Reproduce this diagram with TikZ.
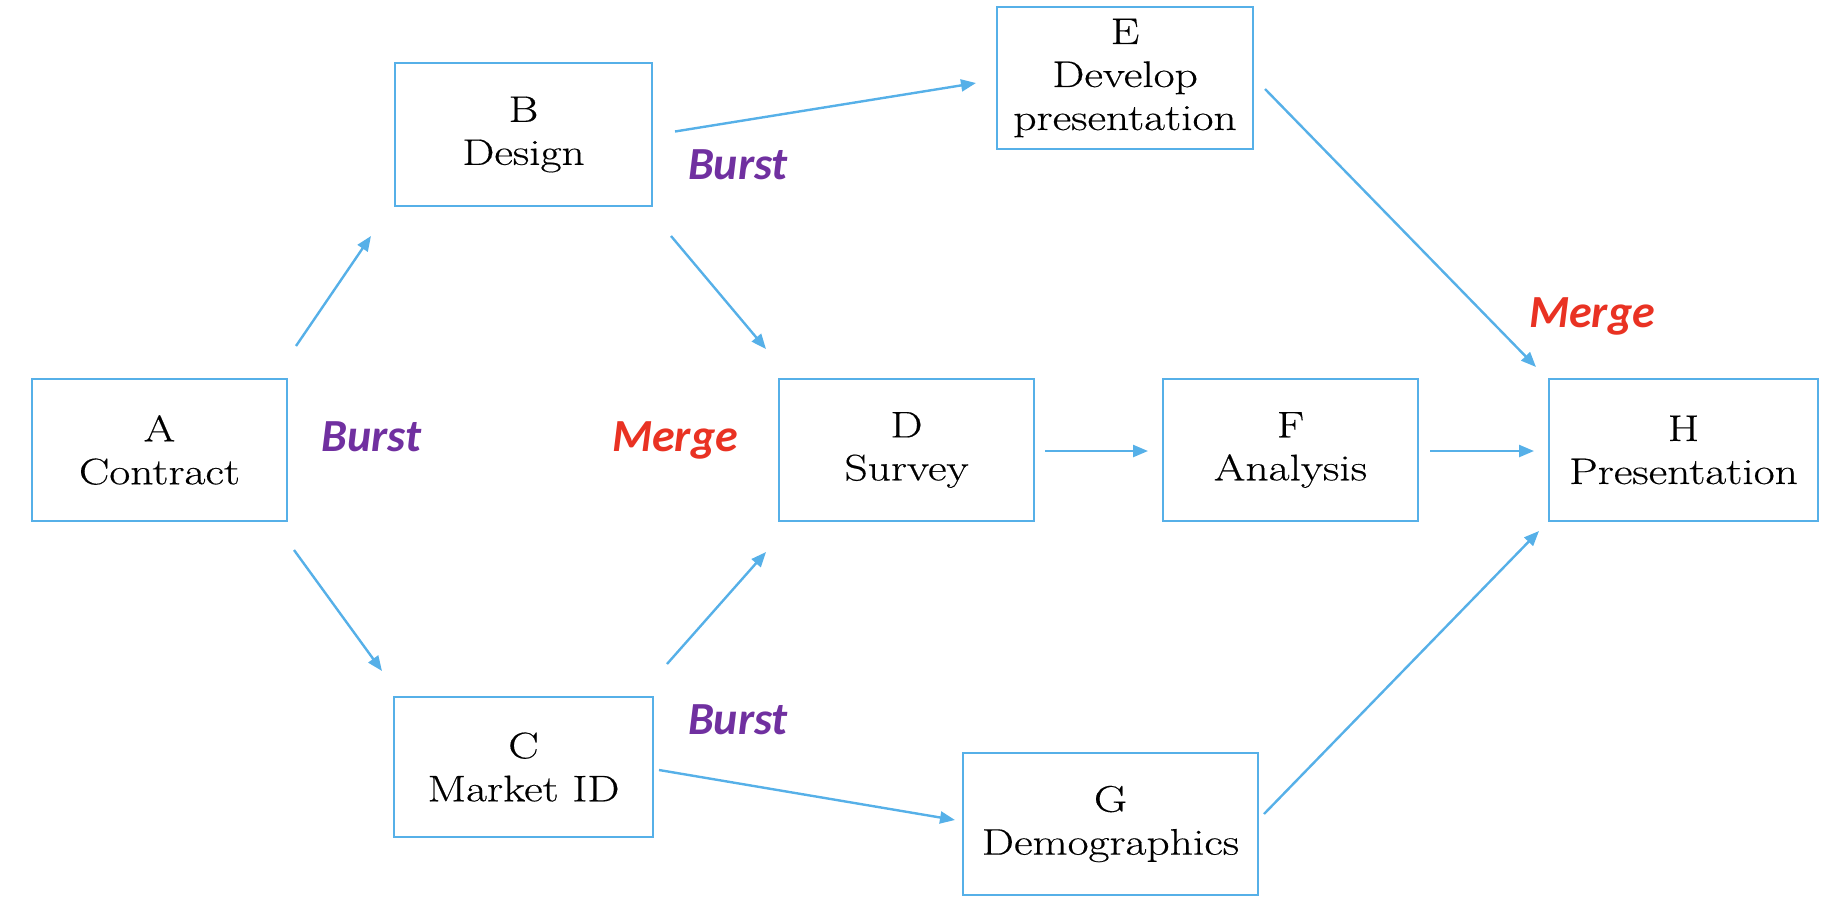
\documentclass[tikz,border=0pt]{standalone}
\usepackage{fontspec}
\newfontfamily\boxfont[FakeStretch=1.23,FakeBold=0.4]{Latin Modern Roman}
\newfontfamily\lblfont{Carlito}
\usetikzlibrary{arrows.meta,calc}
\definecolor{boxblue}{RGB}{86,176,232}
\definecolor{burstpurple}{RGB}{112,48,160}
\definecolor{mergered}{RGB}{233,50,35}
\tikzset{
  taskbox/.style={draw=boxblue, line width=2pt, inner sep=0pt, align=center,
    font=\boxfont\fontsize{37}{43}\selectfont, text=black},
  arr/.style={draw=boxblue, line width=2.4pt, -{Triangle[length=15pt,width=12pt]}},
  burst/.style={anchor=base, font=\lblfont\bfseries\itshape\fontsize{46}{50}\selectfont, text=burstpurple},
  merge/.style={anchor=base, font=\lblfont\bfseries\itshape\fontsize{46}{50}\selectfont, text=mergered}
}
\begin{document}
\begin{tikzpicture}[x=1pt,y=-1pt]
\useasboundingbox (0,0) rectangle (1828,902);
% boxes
\node[taskbox, minimum width=255pt, minimum height=142pt] (A) at (159.5,450) {A\\Contract};
\node[taskbox, minimum width=257pt, minimum height=143pt] (B) at (523.5,134.5) {B\\Design};
\node[taskbox, minimum width=259pt, minimum height=140pt] (C) at (523.5,767) {C\\Market ID};
\node[taskbox, minimum width=255pt, minimum height=142pt] (D) at (906.5,450) {D\\Survey};
\node[taskbox, minimum width=256pt, minimum height=142pt] (E) at (1125,78) {E\\Develop\\presentation};
\node[taskbox, minimum width=255pt, minimum height=142pt] (F) at (1290.5,450) {F\\Analysis};
\node[taskbox, minimum width=295pt, minimum height=142pt] (G) at (1110.5,824) {G\\Demographics};
\node[taskbox, minimum width=269pt, minimum height=142pt] (H) at (1683.5,450) {H\\Presentation};
% labels
\node[burst] (b1) at (371.5,451) {Burst};
\node[burst] (b2) at (738,179) {Burst};
\node[burst] (b3) at (738,734) {Burst};
\node[merge] (m1) at (675,451) {Merge};
\node[merge] (m2) at (1592,327) {Merge};
% arrows
\draw[arr] ($(A.north east)+(8,-32)$) -- ($(B.south west)+(-23,29)$);
\draw[arr] ($(A.south east)+(6,28)$) -- ($(C.north west)+(-11,-25)$);
\draw[arr] ($(B.east)+(22,-3)$) -- ($(E.west)+(-20,5)$);
\draw[arr] ($(B.south east)+(18,29)$) -- ($(D.north west)+(-12,-29)$);
\draw[arr] ($(C.north east)+(13,-32)$) -- ($(D.south west)+(-12,30)$);
\draw[arr] ($(C.east)+(5,3)$) -- ($(G.west)+(-7,-4)$);
\draw[arr] ($(D.east)+(10,1)$) -- ($(F.west)+(-14,1)$);
\draw[arr] ($(F.east)+(11,1)$) -- ($(H.west)+(-14,1)$);
\draw[arr] ($(E.east)+(11,11)$) -- ($(H.north west)+(-12,-11)$);
\draw[arr] ($(G.east)+(5,-10)$) -- ($(H.south west)+(-9,9)$);
\end{tikzpicture}
\end{document}
